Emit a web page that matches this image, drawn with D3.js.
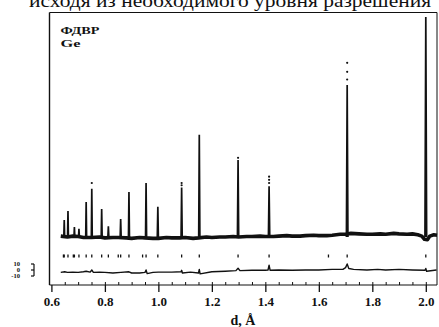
<!DOCTYPE html>
<html>
<head>
<meta charset="utf-8">
<script src="https://cdn.jsdelivr.net/npm/d3@7/dist/d3.min.js"></script>
<style>
  html, body { margin: 0; padding: 0; background: #fff; }
  svg { display: block; }
</style>
</head>
<body>
<div id="chart"></div>
<script>
// Neutron TOF powder pattern of Ge (FDVR): observed points, calculated profile,
// reflection positions and difference curve.

// Bragg peak positions (d, Å) and calculated peak intensities (counts above background)
const peakD = [0.648, 0.662, 0.686, 0.703, 0.730, 0.751, 0.788, 0.813, 0.859, 0.890,
               0.954, 0.998, 1.087, 1.153, 1.298, 1.414, 1.706, 2.000];
const peakI = [38, 58, 22, 18, 78, 107, 62, 24, 40, 100,
               120, 67, 110, 227, 171, 113, 338, 489];

// Observed points standing above the calculated peak tops: [d, counts]
const obsPoints = [[0.751, 120], [1.087, 120], [1.087, 115], [1.298, 176],
                   [1.414, 134], [1.414, 127], [1.414, 120],
                   [1.706, 387], [1.706, 367], [1.706, 350]];

// Observed background level along the pattern: [d, counts]
const background = [[0.635, 2], [0.66, 0], [0.68, 2], [0.70, 1], [0.72, -1], [0.75, -1],
  [0.78, 0], [0.80, -2], [0.83, -1], [0.85, -1], [0.88, -2], [0.90, -3], [0.93, -1],
  [0.95, -2], [0.98, -3], [1.00, -3], [1.03, -1], [1.05, -2], [1.08, -2], [1.10, -1],
  [1.13, -3], [1.15, -2], [1.18, 0], [1.20, -1], [1.23, 0], [1.25, 0], [1.28, 1],
  [1.30, 0], [1.33, 1], [1.35, 1], [1.38, 2], [1.40, 1], [1.43, 1], [1.45, 2],
  [1.48, 3], [1.50, 2], [1.53, 2], [1.55, 3], [1.58, 4], [1.60, 3], [1.63, 3],
  [1.65, 4], [1.68, 6], [1.70, 6], [1.72, 8], [1.75, 7], [1.78, 6], [1.80, 6],
  [1.83, 7], [1.85, 6], [1.88, 8], [1.90, 7], [1.93, 6], [1.95, 7], [1.97, 5],
  [1.985, 2], [1.995, -5], [2.006, -6], [2.015, 2], [2.03, 5], [2.042, 4]];

// Reflection positions (tick row)
const reflD = [0.645, 0.648, 0.662, 0.682, 0.686, 0.703, 0.730, 0.751, 0.788, 0.813,
               0.850, 0.859, 0.890, 0.941, 0.954, 0.998, 1.087, 1.153, 1.298, 1.414,
               1.636, 1.706, 2.000];

// Difference curve (obs - calc): [d, counts]
const diff = [[0.635, -4], [0.65, -3], [0.66, -4], [0.68, -3.5], [0.70, -4], [0.72, -3],
  [0.73, -2], [0.745, -3.5], [0.751, 0], [0.757, -4], [0.78, -3.5], [0.80, -4], [0.83, -5],
  [0.86, -4], [0.89, -3], [0.90, -5], [0.93, -5], [0.950, -4], [0.954, 0], [0.958, -6],
  [0.98, -4], [1.00, -3.5], [1.05, -3.5], [1.085, -3], [1.087, -0.5], [1.09, -5], [1.12, -3.5],
  [1.150, -5], [1.153, 1], [1.156, -6.5], [1.20, -3], [1.25, -2], [1.29, -1], [1.298, 3],
  [1.305, -1], [1.35, -0.5], [1.40, -0.5], [1.410, 0], [1.414, 8], [1.418, -0.5], [1.45, 0],
  [1.50, -0.5], [1.55, 0], [1.60, 0], [1.65, 1], [1.69, 1], [1.700, 4], [1.706, 10],
  [1.712, 2.5], [1.73, 1], [1.78, 0], [1.82, 1], [1.85, 0], [1.90, 1], [1.95, 0],
  [1.997, -0.5], [2.000, 2.5], [2.003, -2], [2.04, 0]];

const xTicks = [0.6, 0.8, 1.0, 1.2, 1.4, 1.6, 1.8, 2.0];
const xMinorTicks = d3.range(0.65, 2.06, 0.05);
const diffTicks = [10, 0, -10];

const W = 439, H = 327;
const frame = { left: 49.5, right: 437, top: 12.5, bottom: 285 };

const svg = d3.select("#chart").append("svg")
  .attr("width", W).attr("height", H);

const x = d3.scaleLinear().domain([0.6, 2.0]).range([51.4, 425.8]);
const y = d3.scaleLinear().domain([0, 500]).range([237, 12]);
// separate, compressed scale for the difference curve
const yd = d3.scaleLinear().domain([-10, 10]).range([276, 264]);

const ink = "#111";
const serif = "Liberation Serif, Times New Roman, Times, serif";

// Running text above the figure (page text, cut by the top edge)
svg.append("text")
  .attr("x", 29).attr("y", 7)
  .attr("font-family", serif).attr("font-size", 19)
  .attr("textLength", 402).attr("lengthAdjust", "spacingAndGlyphs")
  .attr("fill", ink)
  .text("исходя из необходимого уровня разрешения");

// Frame
const fr = svg.append("g").attr("stroke", ink).attr("fill", "none");
fr.append("line").attr("x1", frame.left).attr("x2", frame.right)
  .attr("y1", frame.top).attr("y2", frame.top).attr("stroke-width", 1.1);
fr.append("line").attr("x1", frame.left).attr("x2", frame.left)
  .attr("y1", frame.top).attr("y2", frame.bottom).attr("stroke-width", 1.4);
fr.append("line").attr("x1", frame.right).attr("x2", frame.right)
  .attr("y1", frame.top).attr("y2", frame.bottom).attr("stroke-width", 1);

// Bottom axis: major ticks pointing down with labels, minor ticks pointing up
const axB = svg.append("g").attr("transform", `translate(0,${frame.bottom})`)
  .call(d3.axisBottom(x).tickValues(xTicks).tickSize(7).tickPadding(5)
        .tickFormat(d3.format(".1f")));
axB.select(".domain").attr("d", `M${frame.left},0H${frame.right}`)
  .attr("stroke", ink).attr("stroke-width", 1.2);
axB.selectAll(".tick line").attr("stroke", ink).attr("stroke-width", 1.3);
axB.selectAll(".tick text").attr("fill", ink)
  .attr("font-family", serif).attr("font-size", 13).attr("font-weight", "bold");

const axM = svg.append("g").attr("transform", `translate(0,${frame.bottom})`)
  .call(d3.axisTop(x).tickValues(xMinorTicks).tickSize(3).tickFormat(""));
axM.select(".domain").remove();
axM.selectAll(".tick line").attr("stroke", ink).attr("stroke-width", 1);

svg.append("text")
  .attr("x", 243).attr("y", 325).attr("text-anchor", "middle")
  .attr("font-family", serif).attr("font-size", 14).attr("font-weight", "bold")
  .attr("fill", ink).text("d, Å");

// Sample / instrument labels
svg.append("text").attr("x", 60.5).attr("y", 34)
  .attr("font-family", serif).attr("font-size", 11).attr("font-weight", "bold")
  .attr("textLength", 39).attr("lengthAdjust", "spacingAndGlyphs")
  .attr("fill", ink).text("ФДВР");
svg.append("text").attr("x", 60.5).attr("y", 46.5)
  .attr("font-family", serif).attr("font-size", 11).attr("font-weight", "bold")
  .attr("textLength", 20).attr("lengthAdjust", "spacingAndGlyphs")
  .attr("fill", ink).text("Ge");

const line = d3.line().x(p => x(p[0])).y(p => y(p[1]));

// Observed background (heavy band)
svg.append("path").datum(background)
  .attr("d", line).attr("fill", "none").attr("stroke", ink)
  .attr("stroke-width", 3.6).attr("stroke-linejoin", "round");

// Peak profiles
svg.append("g").selectAll("path").data(peakD).join("path")
  .attr("d", (d, i) => {
    const w = 0.0012 * d + 0.0008;
    return line([[d - w, 0], [d, peakI[i]], [d + w, 0]]);
  })
  .attr("fill", "none").attr("stroke", ink).attr("stroke-width", 1.7)
  .attr("stroke-linejoin", "miter");

// Observed points above the peak tops
svg.append("g").selectAll("circle").data(obsPoints).join("circle")
  .attr("cx", p => x(p[0])).attr("cy", p => y(p[1])).attr("r", 1.1)
  .attr("fill", ink);

// Reflection markers
svg.append("g").selectAll("line").data(reflD).join("line")
  .attr("x1", d => x(d)).attr("x2", d => x(d))
  .attr("y1", 254.5).attr("y2", 257.5)
  .attr("stroke", ink).attr("stroke-width", 1.3);

// Difference curve
svg.append("path").datum(diff)
  .attr("d", d3.line().x(p => x(p[0])).y(p => yd(p[1])))
  .attr("fill", "none").attr("stroke", ink).attr("stroke-width", 1.4)
  .attr("stroke-linejoin", "round");

// Difference scale
const dAx = svg.append("g").attr("transform", "translate(34,0)");
dAx.append("line").attr("x1", 0).attr("x2", 0)
  .attr("y1", yd(10)).attr("y2", yd(-10))
  .attr("stroke", ink).attr("stroke-width", 1.2);
dAx.selectAll("line.t").data(diffTicks).join("line").attr("class", "t")
  .attr("x1", -3).attr("x2", 0)
  .attr("y1", v => yd(v)).attr("y2", v => yd(v))
  .attr("stroke", ink).attr("stroke-width", 1.2);
svg.append("g").selectAll("text").data(diffTicks).join("text")
  .attr("x", 20).attr("y", v => yd(v) + 2.3)
  .attr("text-anchor", "end")
  .attr("font-family", serif).attr("font-size", 6.5).attr("font-weight", "bold")
  .attr("fill", ink).text(v => v);
</script>
</body>
</html>
